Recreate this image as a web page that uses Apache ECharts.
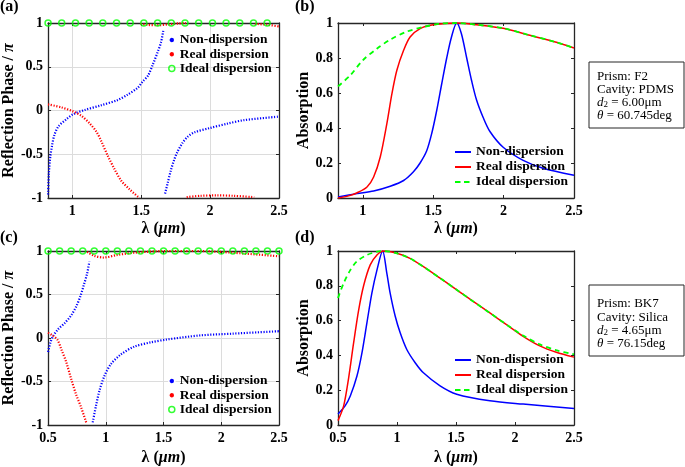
<!DOCTYPE html>
<html><head><meta charset="utf-8">
<script src="https://cdn.jsdelivr.net/npm/echarts@6/dist/echarts.min.js"></script>
<style>html,body{margin:0;padding:0;background:#fff}#c{width:685px;height:467px}</style>
</head><body><div id="c"></div>
<script>
// ---------- data ----------
// tick values
const xTicksAB = [1, 1.5, 2, 2.5];
const xTicksCD = [0.5, 1, 1.5, 2, 2.5];

// (a) reflection phase, prism F2 / PDMS
const aBlueX = [0.824,0.83,0.84,0.853,0.87,0.9,0.957,1.005,1.09,1.21,1.33,1.4,1.475,1.51,1.55,1.583,1.62,1.644,1.66,null,1.673,1.692,1.716,1.74,1.764,1.8,1.837,1.885,2.0,2.126,2.247,2.5];
const aBlueY = [-0.96,-0.72,-0.53,-0.4,-0.28,-0.18,-0.1,-0.044,0.006,0.06,0.12,0.18,0.26,0.33,0.4,0.52,0.67,0.78,0.91,null,-0.95,-0.83,-0.68,-0.56,-0.47,-0.37,-0.3,-0.25,-0.2,-0.15,-0.11,-0.07];
const aRedX = [0.824,0.92,1.005,1.065,1.125,1.174,1.21,1.258,1.306,1.354,1.415,1.487,null,1.495,1.55,1.62,1.7,1.77,1.825,null,1.83,1.93,2.05,2.17,2.32,null,2.325,2.415,2.5];
const aRedY = [0.07,0.036,-0.01,-0.06,-0.146,-0.24,-0.35,-0.52,-0.67,-0.8,-0.9,-1.0,null,0.99,0.978,0.975,0.985,0.995,1.0,null,-0.99,-0.975,-0.97,-0.975,-0.99,null,0.99,0.98,0.96];
const aGreenX = [0.824,0.923,1.023,1.122,1.221,1.321,1.42,1.519,1.619,1.718,1.818,1.917,2.017,2.116,2.215,2.315,2.414];
const aGreenY = [1,1,1,1,1,1,1,1,1,1,1,1,1,1,1,1,1];

// (b) absorption, prism F2 / PDMS
const bBlueX = [0.824,0.96,1.077,1.195,1.29,1.36,1.407,1.454,1.49,1.525,1.56,1.596,1.63,1.667,1.7,1.738,1.773,1.808,1.855,1.903,1.997,2.139,2.28,2.5];
const bBlueY = [0.006,0.025,0.04,0.067,0.1,0.15,0.2,0.27,0.37,0.5,0.65,0.8,0.92,1.0,0.94,0.8,0.67,0.56,0.46,0.38,0.29,0.215,0.17,0.13];
const bRedX = [0.824,0.9,0.96,1.03,1.077,1.124,1.171,1.207,1.242,1.29,1.336,1.407,1.5,1.667,1.81,1.997,2.186,2.375,2.5];
const bRedY = [0,0.012,0.03,0.063,0.12,0.234,0.425,0.596,0.73,0.844,0.92,0.968,0.99,1.0,0.99,0.97,0.93,0.89,0.857];
const bGreenX = [0.824,0.91,1.0,1.1,1.195,1.31,1.43,1.55,1.667,1.81,1.997,2.186,2.375,2.5];
const bGreenY = [0.638,0.7,0.787,0.853,0.905,0.95,0.977,0.996,1.0,0.99,0.97,0.93,0.89,0.857];

// (c) reflection phase, prism BK7 / Silica
const cBlueX = [0.5,0.52,0.543,0.586,0.643,0.7,0.743,0.78,0.81,0.838,0.858,null,0.887,0.915,0.944,0.987,1.044,1.13,1.245,1.39,1.53,1.82,2.1,2.5];
const cBlueY = [-0.16,-0.055,0.02,0.1,0.17,0.26,0.36,0.48,0.61,0.74,0.88,null,-0.97,-0.78,-0.61,-0.44,-0.3,-0.19,-0.1,-0.05,-0.017,0.03,0.05,0.078];
const cRedX = [0.5,0.537,0.58,0.615,0.658,0.7,0.743,0.787,0.83,null,0.838,0.9,0.98,1.1,1.245,1.53,1.82,2.1,2.5];
const cRedY = [0.06,0.03,-0.017,-0.13,-0.28,-0.47,-0.65,-0.8,-0.97,null,0.99,0.945,0.925,0.955,0.98,1.0,1.0,0.98,0.94];
const cGreenX = [0.5,0.6,0.7,0.8,0.9,1.0,1.1,1.2,1.3,1.4,1.5,1.6,1.7,1.8,1.9,2.0,2.1,2.2,2.3,2.4,2.5];
const cGreenY = [1,1,1,1,1,1,1,1,1,1,1,1,1,1,1,1,1,1,1,1,1];

// (d) absorption, prism BK7 / Silica
const dBlueX = [0.5,0.56,0.604,0.66,0.703,0.745,0.787,0.83,0.878,0.914,0.942,0.985,1.027,1.083,1.154,1.224,1.365,1.506,1.787,2.069,2.5];
const dBlueY = [0.063,0.11,0.167,0.28,0.415,0.587,0.758,0.89,1.0,0.872,0.758,0.625,0.53,0.434,0.358,0.3,0.225,0.177,0.139,0.12,0.095];
const dRedX = [0.5,0.548,0.59,0.632,0.675,0.717,0.773,0.83,0.886,0.999,1.11,1.224,1.365,1.506,1.646,1.787,1.928,2.069,2.21,2.35,2.5];
const dRedY = [0.025,0.11,0.27,0.47,0.66,0.8,0.92,0.977,1.0,0.987,0.958,0.91,0.844,0.777,0.71,0.644,0.577,0.51,0.455,0.418,0.39];
const dGreenX = [0.5,0.548,0.604,0.66,0.745,0.83,0.886,0.999,1.11,1.224,1.365,1.506,1.646,1.787,1.928,2.069,2.21,2.35,2.5];
const dGreenY = [0.73,0.815,0.89,0.94,0.977,0.996,1.0,0.987,0.958,0.91,0.844,0.777,0.71,0.644,0.577,0.514,0.463,0.43,0.406];

const legendNames = ['Non-dispersion', 'Real dispersion', 'Ideal dispersion'];

// ---------- style ----------
const FONT = '"Liberation Serif","Times New Roman",serif';
const AX = '#262626';
const BLUE = '#0000ff', RED = '#ff0000', GREEN = '#00ff00';

function pts(xs, ys) { return xs.map((x, i) => (x === null ? ['-', '-'] : [x, ys[i]])); }

const nameStyle = {
  fontFamily: FONT, fontSize: 16, fontWeight: 'bold', color: '#000',
  rich: { i: { fontFamily: FONT, fontSize: 16, fontStyle: 'italic', fontWeight: 'bold', color: '#000' } }
};
const labelStyle = { fontFamily: FONT, fontSize: 14, fontWeight: 'bold', color: '#000' };

function xAxes(g, min, max, ticks, split, gap) {
  const base = {
    type: 'value', gridIndex: g, min: min, max: max,
    axisLine: { show: true, onZero: false, lineStyle: { color: AX, width: 1.3 } },
    axisTick: { show: true, inside: true, length: 3, customValues: ticks, lineStyle: { color: AX, width: 1 } }
  };
  return [
    Object.assign({}, base, {
      position: 'bottom',
      axisLabel: Object.assign({ customValues: ticks, margin: 6 }, labelStyle),
      splitLine: { show: split, lineStyle: { color: '#dcdcdc', width: 1 } },
      name: 'λ ({i|μm})', nameLocation: 'middle', nameGap: gap, nameTextStyle: nameStyle
    }),
    Object.assign({}, base, { position: 'top', axisLabel: { show: false }, splitLine: { show: false } })
  ];
}
function yAxes(g, min, max, interval, split, name, gap) {
  const base = {
    type: 'value', gridIndex: g, min: min, max: max, interval: interval,
    axisLine: { show: true, onZero: false, lineStyle: { color: AX, width: 1.3 } },
    axisTick: { show: true, inside: true, length: 3, lineStyle: { color: AX, width: 1 } }
  };
  return [
    Object.assign({}, base, {
      position: 'left',
      axisLabel: Object.assign({ margin: 5 }, labelStyle),
      splitLine: { show: split, lineStyle: { color: '#dcdcdc', width: 1 } },
      name: name, nameLocation: 'middle', nameGap: gap, nameTextStyle: nameStyle
    }),
    Object.assign({}, base, { position: 'right', axisLabel: { show: false }, splitLine: { show: false } })
  ];
}

function dotted(name, g, xs, ys, color) {
  return { name: name, type: 'line', xAxisIndex: 2 * g, yAxisIndex: 2 * g, data: pts(xs, ys),
    showSymbol: false, symbol: 'none', smooth: 0.3, connectNulls: false, clip: false,
    lineStyle: { color: color, width: 2.2, type: [1.2, 1.6] }, itemStyle: { color: color }, z: 3 };
}
function solid(name, g, xs, ys, color, dashed) {
  return { name: name, type: 'line', xAxisIndex: 2 * g, yAxisIndex: 2 * g, data: pts(xs, ys),
    showSymbol: false, symbol: 'none', smooth: 0.3, clip: false,
    lineStyle: { color: color, width: dashed ? 1.8 : 1.5, type: dashed ? [5, 4] : 'solid' },
    itemStyle: { color: color }, z: dashed ? 4 : 3 };
}
function circles(name, g, xs, ys) {
  return { name: name, type: 'scatter', xAxisIndex: 2 * g, yAxisIndex: 2 * g, data: pts(xs, ys),
    symbol: 'circle', symbolSize: 6, clip: false,
    itemStyle: { color: 'transparent', borderColor: GREEN, borderWidth: 1.5 }, z: 5 };
}

const legText = { fontFamily: FONT, fontSize: 13.5, fontWeight: 'bold', color: '#000', lineHeight: 14 };
function dotLegend(p, left, top) {
  return { orient: 'vertical', left: left, top: top, padding: 0, itemWidth: 6, itemHeight: 6, itemGap: 0.2,
    textStyle: legText, formatter: n => n.split(':')[1], selectedMode: false,
    data: [
      { name: p + ':' + legendNames[0], icon: 'circle', itemStyle: { color: BLUE, borderColor: '#fff', borderWidth: 1.6 } },
      { name: p + ':' + legendNames[1], icon: 'circle', itemStyle: { color: RED, borderColor: '#fff', borderWidth: 1.6 } },
      { name: p + ':' + legendNames[2], icon: 'circle', itemStyle: { color: 'transparent', borderColor: GREEN, borderWidth: 1.5 } }
    ] };
}
const SOLID_ICON = 'path://M0,0H16V2H0Z';
const DASH_ICON = 'path://M0,0H5.5V2H0Z M9,0H14.5V2H9Z M16,0H16V2H16Z';
function lineLegend(p, left, top) {
  return { orient: 'vertical', left: left, top: top, padding: 0, itemWidth: 16, itemHeight: 2, itemGap: 1,
    textStyle: legText, formatter: n => n.split(':')[1], selectedMode: false,
    data: [
      { name: p + ':' + legendNames[0], icon: SOLID_ICON, itemStyle: { color: BLUE, borderWidth: 0 } },
      { name: p + ':' + legendNames[1], icon: SOLID_ICON, itemStyle: { color: RED, borderWidth: 0 } },
      { name: p + ':' + legendNames[2], icon: DASH_ICON, itemStyle: { color: GREEN, borderWidth: 0 } }
    ] };
}

const boxFont = '13px ' + FONT;
const boxRich = {
  i: { font: 'italic 13px ' + FONT, fill: '#000' },
  s: { font: '9px ' + FONT, fill: '#000', verticalAlign: 'bottom', lineHeight: 9 }
};
function boxLines(x, ys, lines) {
  return lines.map((t, k) => ({ type: 'text', x: x, y: ys[k], z: 10,
    style: { text: t, font: boxFont, fill: '#000', verticalAlign: 'middle', align: 'left', rich: boxRich } }));
}

const option = {
  backgroundColor: '#fff',
  animation: false,
  grid: [
    { left: 47, top: 23, width: 232, height: 175 },
    { left: 338, top: 23, width: 236, height: 175 },
    { left: 47, top: 251, width: 232, height: 175 },
    { left: 338, top: 251, width: 236, height: 175 }
  ],
  xAxis: [].concat(
    xAxes(0, 0.824, 2.5, xTicksAB, true, 23),
    xAxes(1, 0.824, 2.5, xTicksAB, false, 23),
    xAxes(2, 0.5, 2.5, xTicksCD, true, 25),
    xAxes(3, 0.5, 2.5, xTicksCD, false, 25)
  ),
  yAxis: [].concat(
    yAxes(0, -1, 1, 0.5, true, 'Reflection Phase / {i|π}', 26),
    yAxes(1, 0, 1, 0.2, false, 'Absorption', 24.5),
    yAxes(2, -1, 1, 0.5, true, 'Reflection Phase / {i|π}', 26),
    yAxes(3, 0, 1, 0.2, false, 'Absorption', 24.5)
  ),
  legend: [
    dotLegend('a', 168, 33),
    lineLegend('b', 455, 145),
    dotLegend('c', 168, 374),
    lineLegend('d', 455, 353)
  ],
  series: [
    dotted('a:Non-dispersion', 0, aBlueX, aBlueY, BLUE),
    dotted('a:Real dispersion', 0, aRedX, aRedY, RED),
    circles('a:Ideal dispersion', 0, aGreenX, aGreenY),
    solid('b:Non-dispersion', 1, bBlueX, bBlueY, BLUE, false),
    solid('b:Real dispersion', 1, bRedX, bRedY, RED, false),
    solid('b:Ideal dispersion', 1, bGreenX, bGreenY, GREEN, true),
    dotted('c:Non-dispersion', 2, cBlueX, cBlueY, BLUE),
    dotted('c:Real dispersion', 2, cRedX, cRedY, RED),
    circles('c:Ideal dispersion', 2, cGreenX, cGreenY),
    solid('d:Non-dispersion', 3, dBlueX, dBlueY, BLUE, false),
    solid('d:Real dispersion', 3, dRedX, dRedY, RED, false),
    solid('d:Ideal dispersion', 3, dGreenX, dGreenY, GREEN, true)
  ],
  graphic: [
    { type: 'text', x: 0, y: 7, style: { text: '(a)', font: 'bold 16px ' + FONT, fill: '#000', verticalAlign: 'middle' } },
    { type: 'text', x: 295, y: 7, style: { text: '(b)', font: 'bold 16px ' + FONT, fill: '#000', verticalAlign: 'middle' } },
    { type: 'text', x: 0, y: 238, style: { text: '(c)', font: 'bold 16px ' + FONT, fill: '#000', verticalAlign: 'middle' } },
    { type: 'text', x: 295, y: 238, style: { text: '(d)', font: 'bold 16px ' + FONT, fill: '#000', verticalAlign: 'middle' } },
    { type: 'rect', z: 9, shape: { x: 589, y: 62, width: 95, height: 66 }, style: { fill: '#fff', stroke: AX, lineWidth: 1 } },
    { type: 'rect', z: 9, shape: { x: 589, y: 285, width: 95, height: 71 }, style: { fill: '#fff', stroke: AX, lineWidth: 1 } }
  ].concat(
    boxLines(597, [77, 90, 103, 116], ['Prism: F2', 'Cavity: PDMS', '{i|d}{s|2} = 6.00μm', '{i|θ} = 60.745deg']),
    boxLines(597, [304, 318, 331, 344], ['Prism: BK7', 'Cavity: Silica', '{i|d}{s|2} = 4.65μm', '{i|θ} = 76.15deg'])
  )
};

const chart = echarts.init(document.getElementById('c'), null, { renderer: 'canvas' });
chart.setOption(option);
</script>
</body></html>
